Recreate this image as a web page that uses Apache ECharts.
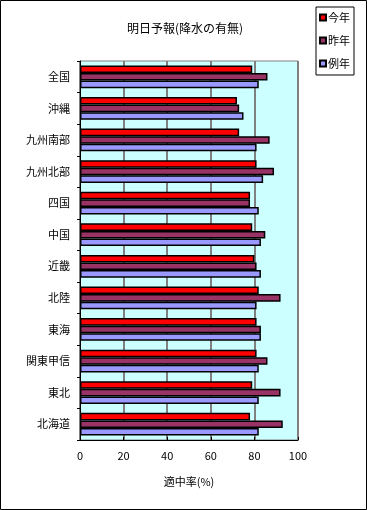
<!DOCTYPE html>
<html><head><meta charset="utf-8">
<script src="https://cdn.jsdelivr.net/npm/echarts@6/dist/echarts.min.js"></script>
<style>html,body{margin:0;padding:0;background:#fff}#c{width:367px;height:510px}</style>
</head><body><div id="c"></div>
<script>
const categories = ['全国','沖縄','九州南部','九州北部','四国','中国','近畿','北陸','東海','関東甲信','東北','北海道'];
const thisYear = [79,72,73,81,78,79,80,82,81,81,79,78];
const lastYear = [86,73,87,89,78,85,81,92,83,86,92,93];
const normalYear = [82,75,81,84,82,83,83,81,83,82,82,82];
const xTicks = [0,20,40,60,80,100];
const seriesNames = ['今年','昨年','例年'];
const colors = ['#FF0000','#993366','#9999FF'];

const font = '"Noto Sans CJK JP", sans-serif';
const chart = echarts.init(document.getElementById('c'), null, {renderer:'canvas'});
const vals = [thisYear, lastYear, normalYear];
chart.setOption({
  animation:false,
  textStyle:{fontFamily:font},
  title:{text:'明日予報(降水の有無)', left:180, top:17, textAlign:'center',
    textStyle:{fontSize:12, fontWeight:'normal', color:'#000', fontFamily:font}},
  legend:{orient:'vertical', left:316, top:7, itemWidth:6, itemHeight:6, itemGap:12,
    icon:'rect', data:seriesNames, padding:[5,4,6,3],
    borderColor:'#000', borderWidth:1,
    textStyle:{fontSize:11, color:'#000', fontFamily:font, padding:[0,0,0,-3]}},
  grid:{left:80, right:69, top:61, bottom:70, show:true, backgroundColor:'#CCFFFF', borderColor:'#808080', borderWidth:1},
  xAxis:{type:'value', min:0, max:100, interval:20,
    name:'適中率(%)', nameLocation:'middle', nameGap:36,
    nameTextStyle:{fontSize:11, color:'#000', fontFamily:font},
    axisLine:{show:true, lineStyle:{color:'#000'}},
    axisTick:{show:true, inside:true, length:3, lineStyle:{color:'#000'}},
    axisLabel:{fontSize:11, color:'#000', margin:10, formatter:v=>xTicks.includes(v)?String(v):''},
    splitLine:{show:true, lineStyle:{color:'#808080', width:2}}},
  yAxis:{type:'category', data:categories, inverse:true,
    axisLine:{show:true, lineStyle:{color:'#000'}},
    axisTick:{show:true, length:3, lineStyle:{color:'#000'}},
    axisLabel:{fontSize:11, color:'#000', margin:10, fontFamily:font},
    splitLine:{show:false}},
  series: seriesNames.map((n,i)=>({
    name:n, type:'bar', data:vals[i], barGap:'0%', barCategoryGap:'28%',
    itemStyle:{color:colors[i], borderColor:'#000', borderWidth:1.5}
  })),
  graphic:[{type:'rect', shape:{x:0.5,y:0.5,width:366,height:509}, style:{fill:'none', stroke:'#000', lineWidth:1}, silent:true}]
});
</script></body></html>
